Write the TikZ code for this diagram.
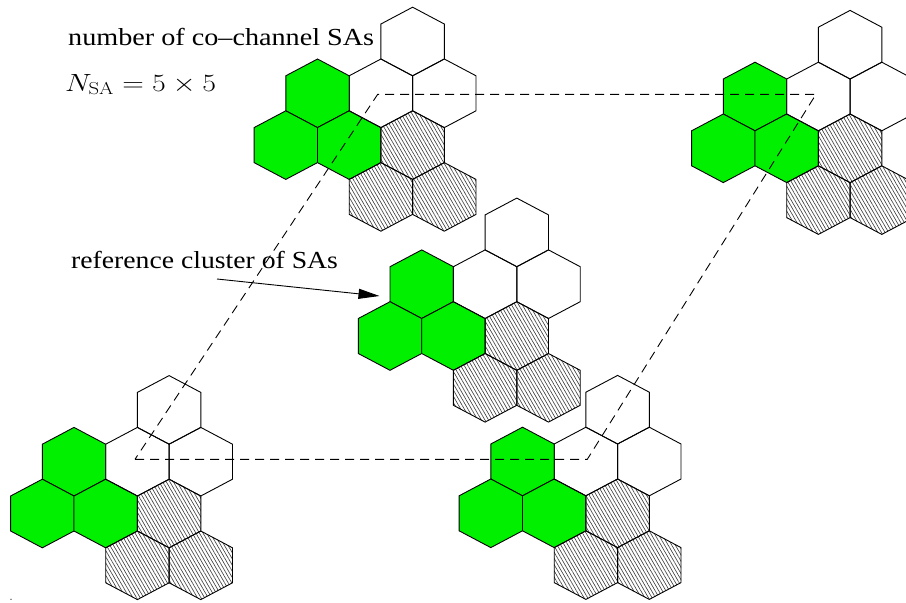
\documentclass[tikz,border=0pt]{standalone}
\usepackage[no-math]{fontspec}
\setmainfont{Liberation Serif}
\usetikzlibrary{arrows.meta,patterns.meta}
\definecolor{cellgreen}{RGB}{0,240,0}

% one hexagonal cell (pointy top) centred at (#2,#3)
\newcommand\hexcell[3]{%
  \path[#1,shift={(#2,#3)}] (0,-34.3) -- (31.7,-17.5) -- (31.7,17.5) -- (0,34.3)
    -- (-31.7,17.5) -- (-31.7,-17.5) -- cycle;}

% a cluster of nine cells; (#1,#2) is the centre of its upper green cell
\newcommand\sacluster[2]{%
  \begin{scope}[shift={(#1,#2)}]
    \hexcell{greencell}{0}{0}
    \hexcell{greencell}{-31.7}{51.8}
    \hexcell{greencell}{31.7}{51.8}
    \hexcell{whitecell}{63.4}{0}
    \hexcell{whitecell}{126.8}{0}
    \hexcell{whitecell}{95.1}{-51.8}
    \hexcell{hatchcell}{95.1}{51.8}
    \hexcell{hatchcell}{63.4}{103.6}
    \hexcell{hatchcell}{126.8}{103.6}
  \end{scope}}

\begin{document}
\begin{tikzpicture}[x=1pt,y=-1pt,
  cellline/.style={draw=black,line width=0.9pt,line join=miter},
  greencell/.style={cellline,fill=cellgreen},
  whitecell/.style={cellline},
  hatchcell/.style={cellline,pattern={Lines[angle=-60,distance=3.1pt,line width=0.65pt]},pattern color=black!75},
  textlabel/.style={inner sep=0pt,font=\fontsize{24.5}{29}\selectfont},
  reuseline/.style={line width=0.9pt,dash pattern=on 9pt off 6pt},
  pointer/.style={line width=0.9pt,-{Triangle[length=21pt,width=10pt]}}]
  \useasboundingbox (0,0) rectangle (906,603);
  \clip (0,0) rectangle (906,603);

  % the five co-channel clusters
  \sacluster{74}{461.7}
  \sacluster{522.5}{461.5}
  \sacluster{317.5}{93.3}
  \sacluster{755}{96.5}
  \sacluster{421.7}{284.2}

  % reuse parallelogram joining the co-channel cells
  \coordinate (blc) at (135,459.3);
  \coordinate (brc) at (587.3,459.3);
  \coordinate (trc) at (816,94.3);
  \coordinate (tlc) at (377.7,94.3);
  \draw[reuseline] (blc) -- (brc) -- (trc) -- (tlc) -- cycle;

  % labels
  \node[textlabel,anchor=base west] (cochan) at (68,45)
    {\scalebox{1.15}[1]{number of co--channel SAs}};
  \node[textlabel,anchor=base west] (nsa) at (65,91)
    {\scalebox{1.2}[1]{$N_{\mathrm{SA}} = 5\times 5$}};
  \node[textlabel,anchor=base west] (refcl) at (71,268.5)
    {\scalebox{1.13}[1]{reference cluster of SAs}};

  \coordinate (arrowtail) at (217,279);
  \coordinate (refcell) at (379.5,296);
  \draw[pointer] (arrowtail) -- (refcell);

  \fill (11,599.3) circle (0.6);
\end{tikzpicture}
\end{document}
